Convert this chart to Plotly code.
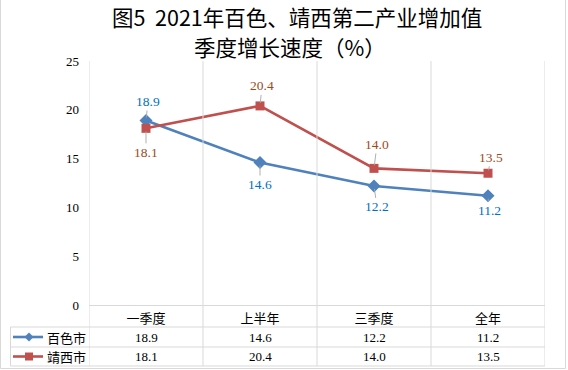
import plotly.graph_objects as go

categories = ["一季度", "上半年", "三季度", "全年"]
baise = [18.9, 14.6, 12.2, 11.2]
jingxi = [18.1, 20.4, 14.0, 13.5]
series_names = ["百色市", "靖西市"]
y_ticks = [0, 5, 10, 15, 20, 25]
title_lines = ["图5\u00a0\u00a02021年百色、靖西第二产业增加值", "季度增长速度（%）"]

BLUE = "#4f81bd"
RED = "#c0504d"
BLUE_TXT = "#0070c0"
RED_TXT = "#9c4a1a"
GRID = "#d9d9d9"
SERIF = "Liberation Serif, Times New Roman, serif"
CJK = "Noto Sans CJK SC, sans-serif"

W, H = 568, 370
L, R, T, B = 89, 23, 61, 65
PW, PH = W - L - R, H - T - B


def px_x(p):
    return (p - L) / PW


def px_y(p):
    return (H - B - p) / PH


xs = list(range(len(categories)))

fig = go.Figure()
fig.add_trace(go.Scatter(x=xs, y=baise, mode="lines+markers", name=series_names[0],
                         line=dict(color=BLUE, width=2.6),
                         marker=dict(symbol="diamond", size=10, color=BLUE),
                         showlegend=False, cliponaxis=False))
fig.add_trace(go.Scatter(x=xs, y=jingxi, mode="lines+markers", name=series_names[1],
                         line=dict(color=RED, width=2.6),
                         marker=dict(symbol="square", size=9, color=RED),
                         showlegend=False, cliponaxis=False))

annotations = []
# data labels with leader lines (offsets in pixels)
b_off = [(2, -19), (0, 22), (3, 21), (1, 15)]
j_off = [(0, 24), (2, -20), (3, -24), (3, -16)]
for vals, offs, col in ((baise, b_off, BLUE_TXT), (jingxi, j_off, RED_TXT)):
    for i, v in enumerate(vals):
        ax, ay = offs[i]
        annotations.append(dict(x=xs[i], y=v, xref="x", yref="y", text=f"{v:.1f}",
                                showarrow=True, arrowhead=0, arrowwidth=0.9,
                                arrowcolor="#a6a6a6", ax=ax, ay=ay, standoff=3,
                                font=dict(family=SERIF, size=13.5, color=col)))

# title
annotations.append(dict(x=px_x(297), y=px_y(16), xref="paper", yref="paper",
                        text=title_lines[0], showarrow=False, xanchor="center", yanchor="middle",
                        font=dict(family=CJK, size=21.5, color="#000000")))
annotations.append(dict(x=px_x(290), y=px_y(46), xref="paper", yref="paper",
                        text=title_lines[1], showarrow=False, xanchor="center", yanchor="middle",
                        font=dict(family=CJK, size=21.5, color="#000000")))

# table values
row_y = [px_y(337), px_y(356.5)]
for r, vals in enumerate((baise, jingxi)):
    for i, v in enumerate(vals):
        annotations.append(dict(x=xs[i], y=row_y[r], xref="x", yref="paper", text=f"{v:.1f}",
                                showarrow=False, xanchor="center", yanchor="middle",
                                font=dict(family=SERIF, size=13, color="#000000")))
    annotations.append(dict(x=px_x(66), y=row_y[r], xref="paper", yref="paper",
                            text=series_names[r], showarrow=False, xanchor="center",
                            yanchor="middle", font=dict(family=CJK, size=13, color="#000000")))

shapes = []
ytop, ybot = 1, px_y(366)
# vertical boundaries
for k in range(len(categories) + 1):
    shapes.append(dict(type="line", xref="x", yref="paper", x0=k - 0.5, x1=k - 0.5,
                       y0=ybot, y1=ytop, line=dict(color=GRID, width=1)))
# table left border
shapes.append(dict(type="line", xref="paper", yref="paper", x0=px_x(10.5), x1=px_x(10.5),
                   y0=ybot, y1=px_y(327), line=dict(color=GRID, width=1)))
# table horizontal lines
for yy in (327, 347, 366):
    shapes.append(dict(type="line", xref="paper", yref="paper", x0=px_x(10.5), x1=1,
                       y0=px_y(yy), y1=px_y(yy), line=dict(color=GRID, width=1)))
# legend keys in table
for r, (col, sym) in enumerate(((BLUE, "diamond"), (RED, "square"))):
    yc = 337 if r == 0 else 356.5
    shapes.append(dict(type="line", xref="paper", yref="paper", x0=px_x(13), x1=px_x(43),
                       y0=px_y(yc), y1=px_y(yc), line=dict(color=col, width=2.6)))
    if sym == "diamond":
        path = (f"M {px_x(29)} {px_y(yc - 4.5)} L {px_x(33.5)} {px_y(yc)} "
                f"L {px_x(29)} {px_y(yc + 4.5)} L {px_x(24.5)} {px_y(yc)} Z")
        shapes.append(dict(type="path", xref="paper", yref="paper", path=path,
                           fillcolor=col, line=dict(color=col, width=0)))
    else:
        shapes.append(dict(type="rect", xref="paper", yref="paper", x0=px_x(25), x1=px_x(33),
                           y0=px_y(yc - 4), y1=px_y(yc + 4), fillcolor=col,
                           line=dict(color=col, width=0)))
# outer frame (left, right, bottom)
for (x0, y0, x1, y1) in ((0.5, 0, 0.5, 368.5), (565.5, 0, 565.5, 368.5), (0.5, 368.5, 565.5, 368.5)):
    shapes.append(dict(type="line", xref="paper", yref="paper", x0=px_x(x0), x1=px_x(x1),
                       y0=px_y(y0), y1=px_y(y1), line=dict(color=GRID, width=1)))

fig.update_layout(
    width=W, height=H,
    margin=dict(l=L, r=R, t=T, b=B),
    paper_bgcolor="white", plot_bgcolor="white",
    annotations=annotations, shapes=shapes,
    hovermode=False,
    xaxis=dict(range=[-0.5, 3.5], tickvals=xs, ticktext=categories, showgrid=False,
               zeroline=False, showline=True, linecolor=GRID, linewidth=1, ticks="",
               ticklabelstandoff=1, tickfont=dict(family=CJK, size=13, color="#000000"),
               fixedrange=True),
    yaxis=dict(range=[0, 25], tickvals=y_ticks, showgrid=False, zeroline=False,
               showline=False, ticks="", ticklabelstandoff=9,
               tickfont=dict(family=SERIF, size=13, color="#000000"), fixedrange=True),
)

fig.write_html("out.html", config={"displayModeBar": False, "staticPlot": True},
               post_script="document.body.style.margin='0';document.body.style.overflow='hidden';")
